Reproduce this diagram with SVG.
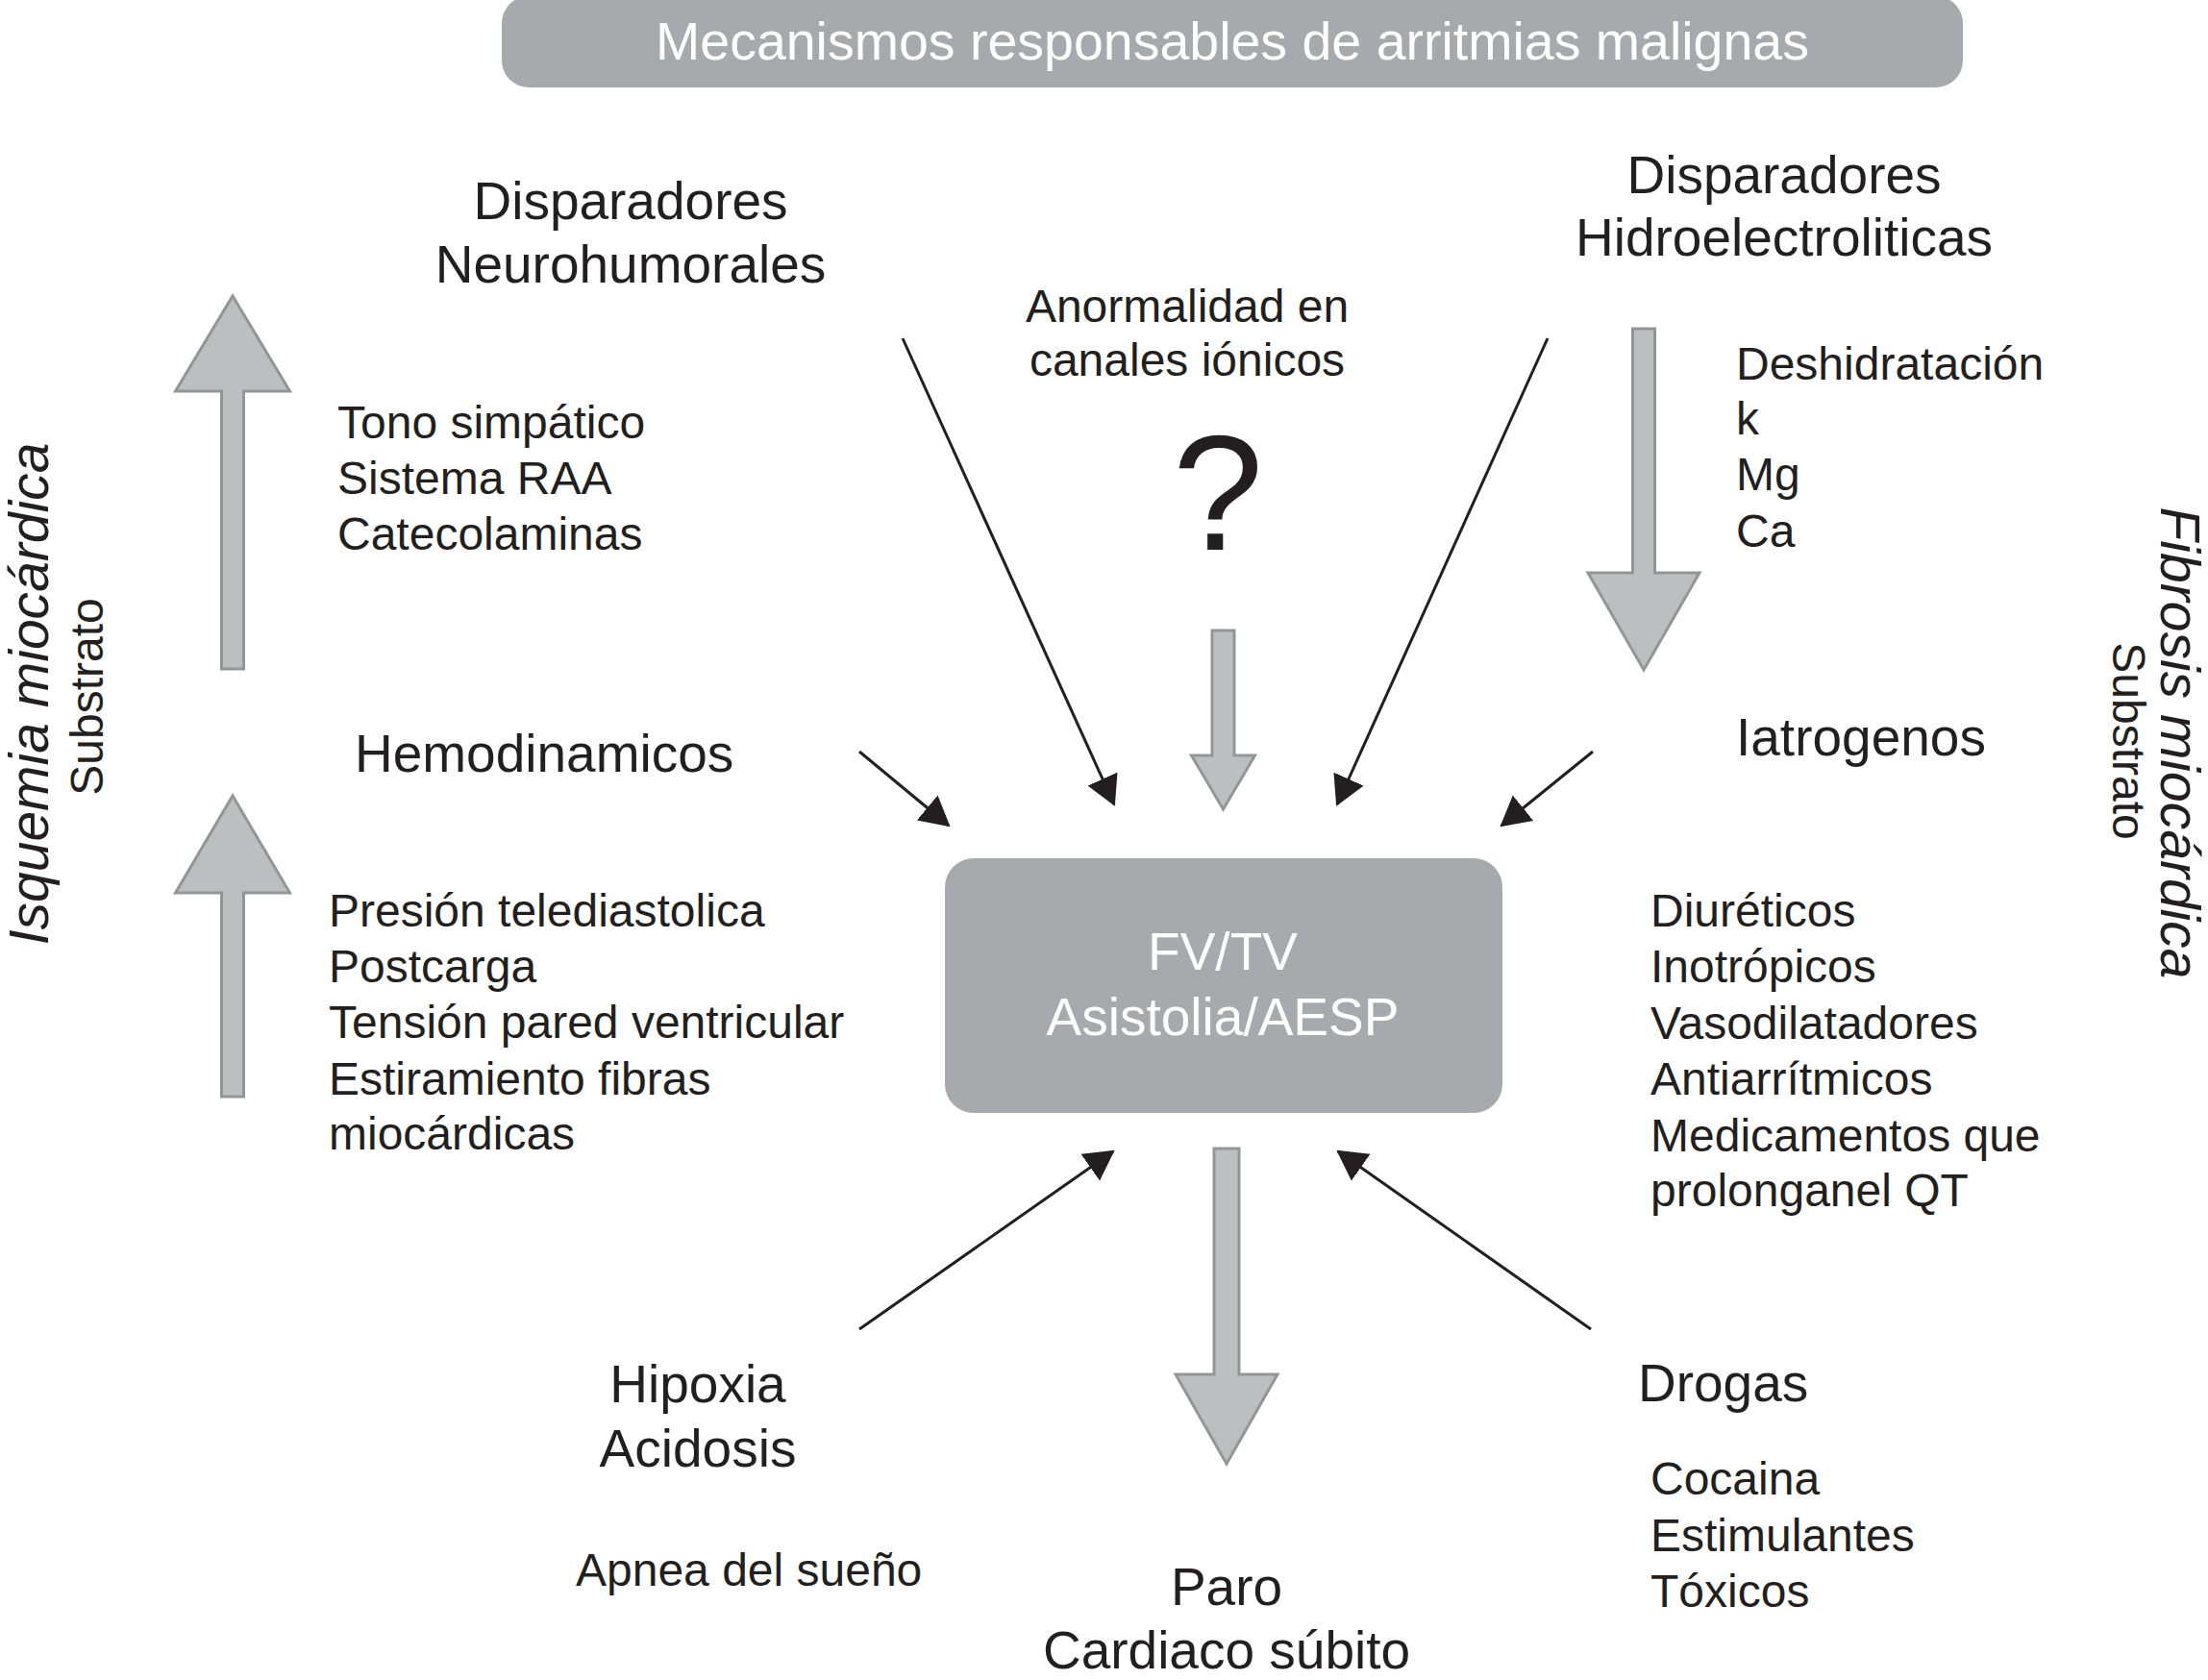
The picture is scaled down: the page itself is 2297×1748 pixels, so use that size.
<svg xmlns="http://www.w3.org/2000/svg" width="2297" height="1748" viewBox="0 0 2297 1748">
<style>
text{font-family:"Liberation Sans",Arial,Helvetica,sans-serif;fill:#231f20}
.h{font-size:55px}
.l{font-size:48px}
.w{fill:#ffffff}
.c{text-anchor:middle}
.it{font-style:italic;font-size:57px}
.box{fill:#a7a9ac}
.blk{fill:#bcbec0;stroke:#939598;stroke-width:3;stroke-linejoin:miter}
.ln{stroke:#231f20;stroke-width:3;fill:none;marker-end:url(#ah)}
</style>
<defs>
<marker id="ah" markerUnits="userSpaceOnUse" markerWidth="34" markerHeight="38" refX="29" refY="17" orient="auto">
<path d="M0,0 L31,17 L0,34 Z" fill="#231f20"/>
</marker>
</defs>
<rect width="2297" height="1748" fill="#ffffff"/>

<g id="title">
<rect class="box" x="522" y="-4" width="1520" height="95" rx="28"/>
<text class="w c" x="1282" y="62" font-size="55.5">Mecanismos responsables de arritmias malignas</text>
</g>

<g id="neurohumorales">
<text class="h c" x="656" y="228">Disparadores</text>
<text class="h c" x="656" y="294">Neurohumorales</text>
<text class="l" x="351" y="456">Tono simpático</text>
<text class="l" x="351" y="514">Sistema RAA</text>
<text class="l" x="351" y="572">Catecolaminas</text>
</g>

<g id="canales">
<text class="l c" x="1235" y="335">Anormalidad en</text>
<text class="l c" x="1235" y="391">canales iónicos</text>
<text class="c" x="1267" y="572" font-size="170">?</text>
</g>

<g id="hidroelectroliticas">
<text class="h c" x="1856" y="201">Disparadores</text>
<text class="h c" x="1856" y="266">Hidroelectroliticas</text>
<text class="l" x="1806" y="395">Deshidratación</text>
<text class="l" x="1806" y="452">k</text>
<text class="l" x="1806" y="510">Mg</text>
<text class="l" x="1806" y="569">Ca</text>
</g>

<g id="hemodinamicos">
<text class="h" x="369" y="803">Hemodinamicos</text>
<text class="l" x="342" y="964">Presión telediastolica</text>
<text class="l" x="342" y="1022">Postcarga</text>
<text class="l" x="342" y="1080">Tensión pared ventricular</text>
<text class="l" x="342" y="1139">Estiramiento fibras</text>
<text class="l" x="342" y="1196">miocárdicas</text>
</g>

<g id="iatrogenos">
<text class="h" x="1806" y="786">Iatrogenos</text>
<text class="l" x="1717" y="964">Diuréticos</text>
<text class="l" x="1717" y="1022">Inotrópicos</text>
<text class="l" x="1717" y="1081">Vasodilatadores</text>
<text class="l" x="1717" y="1139">Antiarrítmicos</text>
<text class="l" x="1717" y="1198">Medicamentos que</text>
<text class="l" x="1717" y="1255">prolonganel QT</text>
</g>

<g id="fvtv">
<rect class="box" x="983" y="893" width="580" height="265" rx="30"/>
<text class="h w c" x="1272" y="1009">FV/TV</text>
<text class="h w c" x="1272" y="1077">Asistolia/AESP</text>
</g>

<g id="hipoxia">
<text class="h c" x="726" y="1459">Hipoxia</text>
<text class="h c" x="726" y="1526">Acidosis</text>
<text class="l" x="599" y="1650">Apnea del sueño</text>
</g>

<g id="drogas">
<text class="h" x="1704" y="1458">Drogas</text>
<text class="l" x="1717" y="1555">Cocaina</text>
<text class="l" x="1717" y="1614">Estimulantes</text>
<text class="l" x="1717" y="1672">Tóxicos</text>
</g>

<g id="paro">
<text class="h c" x="1276" y="1670">Paro</text>
<text class="h c" x="1276" y="1736">Cardiaco súbito</text>
</g>

<g id="isquemia">
<text class="it c" transform="translate(50,722) rotate(-90)">Isquemia miocárdica</text>
<text class="l c" transform="translate(107,725) rotate(-90)">Substrato</text>
</g>

<g id="fibrosis">
<text class="it c" transform="translate(2248,773) rotate(90)">Fibrosis miocárdica</text>
<text class="l c" transform="translate(2198,771) rotate(90)">Substrato</text>
</g>

<g id="connectors">
<path class="blk" d="M242,308 L301.5,407 L253.5,407 L253.5,696 L230.5,696 L230.5,407 L182.5,407 Z"/>
<path class="blk" d="M242,828 L301.5,929 L253.5,929 L253.5,1141 L230.5,1141 L230.5,929 L182.5,929 Z"/>
<path class="blk" d="M1698.5,342 L1721.5,342 L1721.5,596 L1768,596 L1710,697 L1652,596 L1698.5,596 Z"/>
<path class="blk" d="M1261,656 L1284,656 L1284,786 L1305.5,786 L1272.5,842 L1239.5,786 L1261,786 Z"/>
<path class="blk" d="M1263,1195 L1289,1195 L1289,1430 L1329,1430 L1276,1523 L1223,1430 L1263,1430 Z"/>
<line class="ln" x1="939" y1="352" x2="1159" y2="837"/>
<line class="ln" x1="1610" y1="352" x2="1391" y2="837"/>
<line class="ln" x1="894" y1="782" x2="987" y2="859"/>
<line class="ln" x1="1657" y1="782" x2="1562" y2="859"/>
<line class="ln" x1="894" y1="1383" x2="1158" y2="1198"/>
<line class="ln" x1="1655" y1="1383" x2="1392" y2="1198"/>
</g>
</svg>
